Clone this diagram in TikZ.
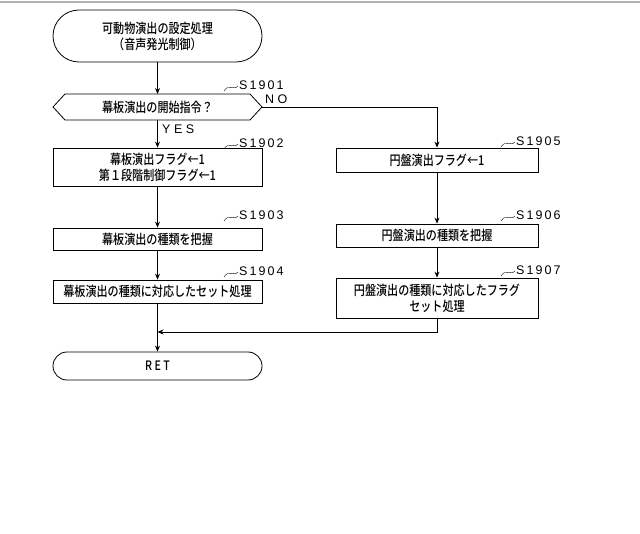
\documentclass[tikz,border=0pt]{standalone}
\usepackage{fontspec}
\setmainfont{Liberation Sans}
\newfontfamily\cjk[FakeStretch=0.82]{Noto Sans CJK JP Medium}
\usetikzlibrary{shapes.misc,arrows.meta}
\begin{document}
\begin{tikzpicture}[x=1pt,y=-1pt,
  every node/.style={font=\cjk\fontsize{13.5}{16}\selectfont, inner sep=0},
  proc/.style={draw, thick, minimum height=#1},
  term/.style={draw, thick, rounded rectangle, minimum width=209, minimum height=#1},
  arr/.style={thick,-{Stealth[length=6,width=5]}},
  lbl/.style={font=\fontsize{12.5}{14}\selectfont, anchor=west}]
\useasboundingbox (0,0) rectangle (640,534);
\draw[gray!60, line width=1.2] (0,2) -- (640,2);
% left column
\node[term=52, align=center] (st) at (157.5,36) {可動物演出の設定処理\\（音声発光制御）};
\coordinate (dr) at (262,107);
\draw[thick] (53,107) -- (65,94) -- (250,94) -- (262,107) -- (250,120) -- (65,120) -- cycle;
\node (d) at (157.5,107) {幕板演出の開始指令？};
\node[proc=38, minimum width=209, align=center] (b2) at (157.5,167) {幕板演出フラグ←1\\第１段階制御フラグ←1};
\node[proc=22, minimum width=209] (b3) at (157.5,239) {幕板演出の種類を把握};
\node[proc=23, minimum width=209] (b4) at (157.5,291.5) {幕板演出の種類に対応したセット処理};
\node[term=28] (ret) at (157.5,366) {\fontsize{13}{15}\selectfont R E T};
% right column
\node[proc=24, minimum width=202] (b5) at (437,160) {円盤演出フラグ←1};
\node[proc=23, minimum width=202] (b6) at (437,235.5) {円盤演出の種類を把握};
\node[proc=40, minimum width=202, align=center] (b7) at (437,298) {円盤演出の種類に対応したフラグ\\セット処理};
% connectors
\draw[arr] (st) -- (157.5,94);
\draw[arr] (157.5,120) -- (b2);
\draw[arr] (b2) -- (b3);
\draw[arr] (b3) -- (b4);
\draw[arr] (b4) -- (ret);
\draw[arr] (dr) -| (b5);
\draw[arr] (b5) -- (b6);
\draw[arr] (b6) -- (b7);
\coordinate (m) at (157.5,332);
\draw[arr] (b7.south) |- (m);
\node[lbl] at (162,129) {Y E S};
\node[lbl] at (265,99) {N O};
% step labels
\foreach \x/\y/\t in {238/86/S\,1\,9\,0\,1, 238/144/S\,1\,9\,0\,2, 238/216/S\,1\,9\,0\,3, 238/272/S\,1\,9\,0\,4, 515/142/S\,1\,9\,0\,5, 515/216/S\,1\,9\,0\,6, 515/271/S\,1\,9\,0\,7}{
  \draw (\x-14,\y+5) .. controls (\x-9,\y-3) and (\x-5,\y+5) .. (\x,\y);
  \node[lbl] at (\x+1,\y-1) {\t};
}
\end{tikzpicture}
\end{document}
